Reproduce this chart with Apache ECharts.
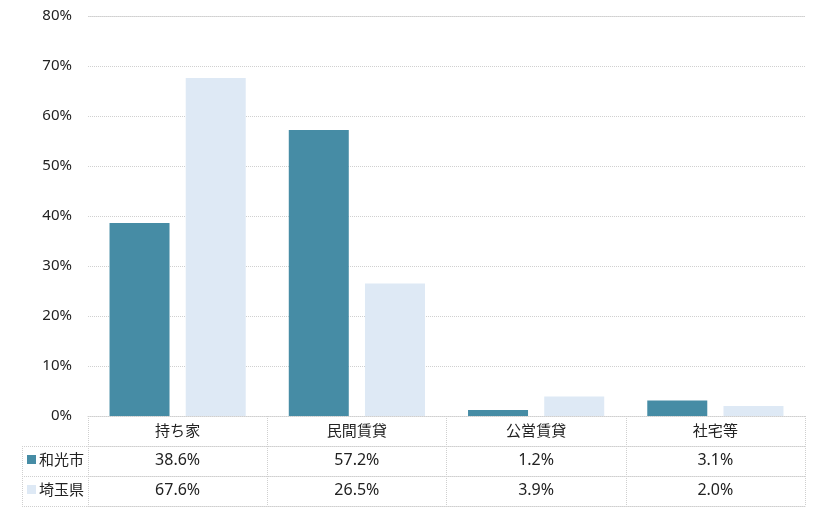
<!DOCTYPE html>
<html>
<head>
<meta charset="utf-8">
<script src="https://cdn.jsdelivr.net/npm/echarts@6/dist/echarts.min.js"></script>
<style>
    html, body { margin: 0; padding: 0; background: #fff; }
</style>
</head>
<body>
<div id="chart" style="width:820px;height:510px;"></div>
<script type="text/javascript">
    // 住宅の所有関係
    var categories = ['持ち家', '民間賃貸', '公営賃貸', '社宅等'];
    var seriesNames = ['和光市', '埼玉県'];
    var wakoValues = [38.6, 57.2, 1.2, 3.1];
    var saitamaValues = [67.6, 26.5, 3.9, 2.0];
    var yTicks = [0, 80, 10]; // min, max, interval

    var FONT = '"Noto Sans CJK JP", "Noto Sans", sans-serif';
    var LINE = '#cfcfcf';

    function rowAxis(values, offset, showLabel) {
        return {
            type: 'category',
            data: categories,
            position: 'bottom',
            offset: offset,
            axisLine: { show: true, lineStyle: { color: LINE, type: 'dotted' } },
            axisTick: { show: false },
            axisLabel: {
                show: showLabel,
                margin: 6,
                color: '#222',
                fontSize: 16,
                fontFamily: '"Noto Sans", sans-serif',
                formatter: function (v, i) {
                    return values ? values[i].toFixed(1) + '%' : '';
                }
            }
        };
    }

    var chart = echarts.init(document.getElementById('chart'));
    var options = {
        animation: false,
        grid: { left: 88, right: 15, top: 16, bottom: 94 },
        legend: {
            data: seriesNames,
            orient: 'vertical',
            left: 27,
            top: 452,
            padding: 0,
            itemWidth: 9,
            itemHeight: 9,
            itemGap: 15,
            icon: 'rect',
            textStyle: { fontSize: 15, fontFamily: FONT, color: '#222', padding: [0, 0, 0, -2] }
        },
        xAxis: [
            {
                type: 'category',
                data: categories,
                position: 'bottom',
                axisLine: { show: true, lineStyle: { color: LINE, type: 'dotted' } },
                axisTick: { show: true, length: 90, lineStyle: { color: LINE, type: 'dotted' } },
                axisLabel: { margin: 7, color: '#222', fontSize: 15, fontFamily: FONT }
            },
            rowAxis(wakoValues, 30, true),
            rowAxis(saitamaValues, 60, true),
            rowAxis(null, 90, false)
        ],
        yAxis: {
            type: 'value',
            min: yTicks[0],
            max: yTicks[1],
            interval: yTicks[2],
            axisLine: { show: false },
            axisTick: { show: false },
            axisLabel: {
                margin: 16,
                color: '#222',
                fontSize: 15,
                fontFamily: '"Noto Sans", sans-serif',
                formatter: '{value}%'
            },
            splitLine: { lineStyle: { color: '#d0d0d0', type: 'dotted' } }
        },
        graphic: [
            // 凡例列の枠線
            { type: 'line', shape: { x1: 22, y1: 446.5, x2: 88, y2: 446.5 }, style: { stroke: LINE, lineDash: [1, 1] } },
            { type: 'line', shape: { x1: 22, y1: 476.5, x2: 88, y2: 476.5 }, style: { stroke: LINE, lineDash: [1, 1] } },
            { type: 'line', shape: { x1: 22, y1: 506.5, x2: 88, y2: 506.5 }, style: { stroke: LINE, lineDash: [1, 1] } },
            { type: 'line', shape: { x1: 22.5, y1: 446, x2: 22.5, y2: 506 }, style: { stroke: LINE, lineDash: [1, 1] } },
            // 上端の実線
            { type: 'line', shape: { x1: 88, y1: 16.5, x2: 805, y2: 16.5 }, style: { stroke: '#dcdcdc' } }
        ],
        series: [
            {
                name: seriesNames[0],
                type: 'bar',
                data: wakoValues,
                barWidth: 60,
                barGap: '27%',
                itemStyle: { color: '#468ca5' }
            },
            {
                name: seriesNames[1],
                type: 'bar',
                data: saitamaValues,
                barWidth: 60,
                itemStyle: { color: '#dee9f5' }
            }
        ]
    };
    chart.setOption(options);
</script>
</body>
</html>
